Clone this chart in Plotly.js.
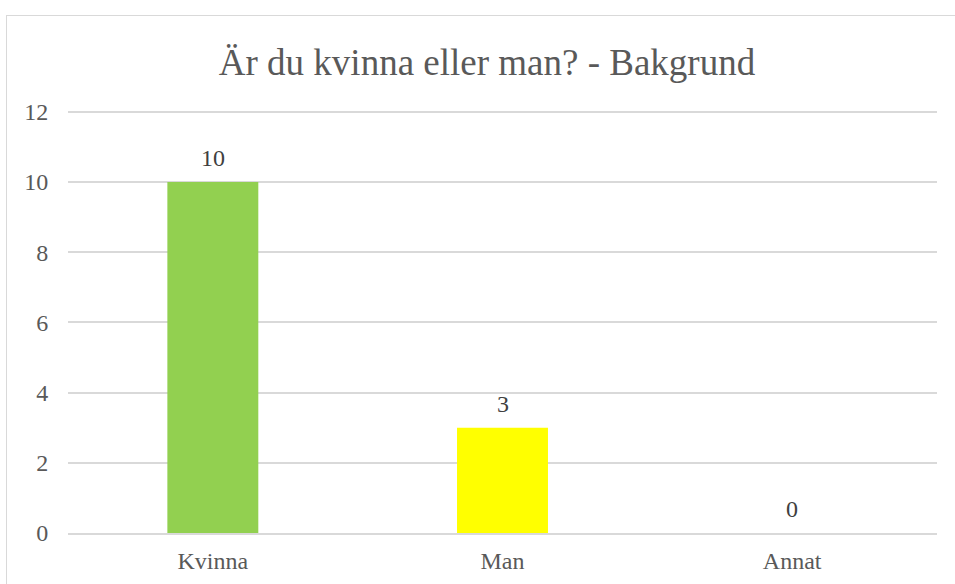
<!DOCTYPE html>
<html>
<head>
<meta charset="utf-8">
<script src="https://cdn.plot.ly/plotly-3.0.1.min.js"></script>
<style>
html,body{margin:0;padding:0;width:955px;height:584px;overflow:hidden;background:#fff;font-family:'Liberation Serif',serif;}
#frame{position:absolute;left:6px;top:15px;width:1200px;height:1000px;border:1.5px solid #d9d9d9;box-sizing:border-box;}
#chart{position:absolute;left:0;top:0;width:955px;height:584px;font-family:'Liberation Serif',serif;}
</style>
</head>
<body>
<div id="frame"></div>
<div id="chart"></div>
<script>
const categories = ["Kvinna", "Man", "Annat"];
const values = [10, 3, 0];
const barColors = ["#92D050", "#FFFF00", "#A5A5A5"];
const yTicks = [0, 2, 4, 6, 8, 10, 12];
const chartTitle = "Är du kvinna eller man? - Bakgrund";

const serifFamily = "Liberation Serif";

function draw() {
  const trace = {
    type: "bar",
    x: categories,
    y: values,
    marker: {color: barColors},
    hoverinfo: "none"
  };

  const annotations = categories.map((c, i) => ({
    x: c, y: values[i], xref: "x", yref: "y",
    text: String(values[i]),
    showarrow: false,
    yanchor: "bottom",
    yshift: 9,
    font: {family: serifFamily, size: 24, color: "#404040"}
  }));

  const layout = {
    width: 955,
    height: 584,
    font: {family: serifFamily, size: 24, color: "#595959"},
    paper_bgcolor: "rgba(0,0,0,0)",
    plot_bgcolor: "rgba(0,0,0,0)",
    margin: {l: 68, r: 18, t: 110, b: 51},
    bargap: 0.686,
    showlegend: false,
    annotations: annotations,
    title: {
      text: chartTitle,
      font: {family: serifFamily, size: 37, color: "#595959"},
      x: 487/955, xref: "container", xanchor: "center",
      y: 1 - 62/584, yref: "container", yanchor: "middle"
    },
    xaxis: {
      type: "category",
      showgrid: false,
      showline: true,
      linecolor: "#d9d9d9",
      linewidth: 1.5,
      ticks: "outside",
      ticklen: 5,
      tickcolor: "rgba(0,0,0,0)",
      tickfont: {family: serifFamily, size: 24, color: "#595959"},
      zeroline: false
    },
    yaxis: {
      range: [0, 12.05],
      tickvals: yTicks,
      ticktext: yTicks.map(String),
      showgrid: true,
      gridcolor: "#d9d9d9",
      gridwidth: 1.5,
      zeroline: false,
      showline: false,
      ticks: "outside",
      ticklen: 14,
      tickcolor: "rgba(0,0,0,0)",
      tickfont: {family: serifFamily, size: 24, color: "#595959"}
    }
  };

  Plotly.newPlot("chart", [trace], layout, {displayModeBar: false});
}

if (document.fonts && document.fonts.load) {
  document.fonts.load('24px "Liberation Serif"').then(draw, draw);
} else {
  draw();
}
</script>
</body>
</html>
